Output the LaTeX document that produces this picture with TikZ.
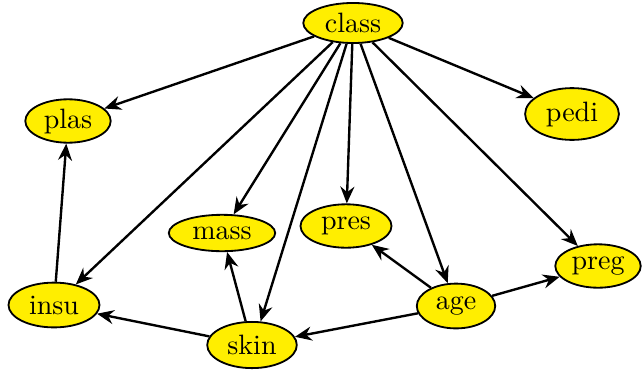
\documentclass[tikz,border=0pt]{standalone}
\usetikzlibrary{arrows.meta,shapes.geometric}
\definecolor{nodeyellow}{RGB}{255,238,0}
\begin{document}
\begin{tikzpicture}[x=0.3571pt,y=-0.3571pt,
  vnode/.style={ellipse,draw=black,line width=0.65pt,fill=nodeyellow,inner sep=0pt,font=\fontsize{10}{12}\selectfont},
  edge/.style={-{Stealth[length=6pt,width=5pt,inset=2pt]},line width=0.85pt}]
\useasboundingbox (0,0) rectangle (644,371);
\node[vnode,minimum width=35.5pt,minimum height=14.3pt] (class) at (353,23) {class};
\node[vnode,minimum width=30.5pt,minimum height=15.5pt] (plas) at (68,121) {plas};
\node[vnode,minimum width=33.5pt,minimum height=18.5pt] (pedi) at (572,114) {pedi};
\node[vnode,minimum width=38pt,minimum height=13pt] (mass) at (222,233) {mass};
\node[vnode,minimum width=32.5pt,minimum height=15.5pt] (pres) at (346,226) {pres};
\node[vnode,minimum width=32.5pt,minimum height=16pt] (insu) at (54,305) {insu};
\node[vnode,minimum width=32pt,minimum height=16.5pt] (skin) at (252,345) {skin};
\node[vnode,minimum width=28pt,minimum height=16pt] (age) at (456,306) {age};
\node[vnode,minimum width=30.5pt,minimum height=15.5pt] (preg) at (598,266) {preg};
\draw[edge] (class) -- (plas);
\draw[edge] (class) -- (pedi);
\draw[edge] (class) -- (insu);
\draw[edge] (class) -- (mass);
\draw[edge] (class) -- (pres);
\draw[edge] (class) -- (age);
\draw[edge] (class) -- (preg);
\draw[edge] (class) -- (skin.70);
\draw[edge] (insu) -- (plas);
\draw[edge] (skin) -- (mass);
\draw[edge] (skin) -- (insu);
\draw[edge] (age) -- (pres);
\draw[edge] (age) -- (preg);
\draw[edge] (age) -- (skin);
\end{tikzpicture}
\end{document}
